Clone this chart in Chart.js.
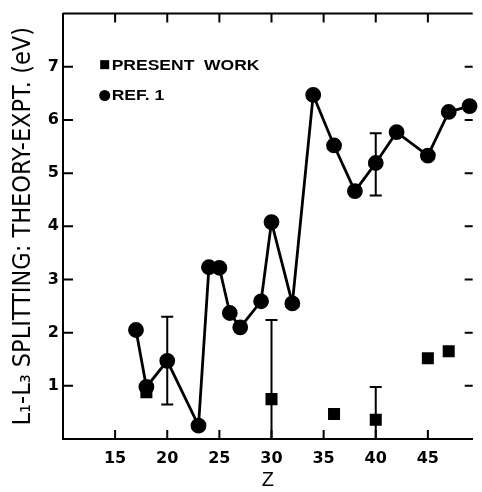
<!DOCTYPE html>
<html>
<head>
<meta charset="utf-8">
<script src="https://cdn.jsdelivr.net/npm/chart.js@4.4.1/dist/chart.umd.min.js"></script>
<style>
html, body { margin: 0; padding: 0; background: #fff; }
#wrap { width: 482px; height: 492px; }
</style>
</head>
<body>
<div id="wrap"><canvas id="splitChart"></canvas></div>
<script>
// values
const refZ = [17, 18, 20, 23, 24, 25, 26, 27, 29, 30, 32, 34, 36, 38, 40, 42, 45, 47, 49];
const refDelta = [2.05, 0.98, 1.47, 0.25, 3.23, 3.22, 2.37, 2.1, 2.59, 4.08, 2.55, 6.47, 5.52, 4.66, 5.19, 5.77, 5.33, 6.15, 6.26];
const presentZ = [18, 30, 36, 40, 45, 47];
const presentDelta = [0.88, 0.75, 0.47, 0.36, 1.52, 1.65];

// error bars
const refErrZ = [20, 40];
const refErrLow = [0.65, 4.58];
const refErrHigh = [2.3, 5.75];
const presentErrZ = [30, 40];
const presentErrLow = [-0.75, -0.26];
const presentErrHigh = [2.24, 0.98];

const xTicks = [15, 20, 25, 30, 35, 40, 45];
const yTicks = [1, 2, 3, 4, 5, 6, 7];

const FONT = 'Liberation Sans';
const TICK_FONT = 'DejaVu Sans';

function toPoints(xs, ys) {
    return xs.map((x, i) => ({ x: x, y: ys[i] }));
}

// inward ticks on all four sides + top frame line
const framePlugin = {
    id: 'frame',
    afterDraw(chart) {
        const ctx = chart.ctx;
        const a = chart.chartArea;
        const xs = chart.scales.x;
        const ys = chart.scales.y;
        ctx.save();
        ctx.strokeStyle = '#000';
        ctx.lineWidth = 2;
        ctx.beginPath();
        ctx.moveTo(a.left, a.top);
        ctx.lineTo(a.right, a.top);
        xTicks.forEach(v => {
            const px = xs.getPixelForValue(v);
            ctx.moveTo(px, a.bottom);
            ctx.lineTo(px, a.bottom - 9);
            ctx.moveTo(px, a.top);
            ctx.lineTo(px, a.top + 9);
        });
        yTicks.forEach(v => {
            const py = ys.getPixelForValue(v);
            ctx.moveTo(a.left, py);
            ctx.lineTo(a.left + 10, py);
            ctx.moveTo(a.right, py);
            ctx.lineTo(a.right - 8, py);
        });
        ctx.stroke();
        ctx.restore();
    }
};

// vertical error bars, clipped at the axis
const errorBarPlugin = {
    id: 'errorBars',
    afterDatasetsDraw(chart) {
        const ctx = chart.ctx;
        const xs = chart.scales.x;
        const ys = chart.scales.y;
        const sets = [
            [refErrZ, refErrLow, refErrHigh],
            [presentErrZ, presentErrLow, presentErrHigh]
        ];
        ctx.save();
        ctx.strokeStyle = '#000';
        ctx.lineWidth = 2;
        sets.forEach(([zs, lo, hi]) => {
            zs.forEach((z, i) => {
                const px = xs.getPixelForValue(z);
                const low = Math.max(lo[i], ys.min);
                const pLow = ys.getPixelForValue(low);
                const pHigh = ys.getPixelForValue(hi[i]);
                ctx.beginPath();
                ctx.moveTo(px, pLow);
                ctx.lineTo(px, pHigh);
                ctx.moveTo(px - 6, pHigh);
                ctx.lineTo(px + 6, pHigh);
                if (lo[i] > ys.min) {
                    ctx.moveTo(px - 6, pLow);
                    ctx.lineTo(px + 6, pLow);
                }
                ctx.stroke();
            });
        });
        ctx.restore();
    }
};

// legend drawn inside the plot, upper left; lettering is wide in the original
const legendPlugin = {
    id: 'innerLegend',
    afterDraw(chart) {
        const ctx = chart.ctx;
        const xs = chart.scales.x;
        const ys = chart.scales.y;
        const x0 = xs.getPixelForValue(14);
        const rows = [
            { label: chart.data.datasets[1].label, style: 'rect', y: ys.getPixelForValue(7.04) },
            { label: chart.data.datasets[0].label, style: 'circle', y: ys.getPixelForValue(6.46) }
        ];
        ctx.save();
        ctx.fillStyle = '#000';
        ctx.font = 'bold 14px ' + FONT;
        ctx.textBaseline = 'middle';
        rows.forEach(r => {
            if (r.style === 'rect') {
                ctx.fillRect(x0 - 4.5, r.y - 4.5, 9, 9);
            } else {
                ctx.beginPath();
                ctx.arc(x0, r.y, 5.5, 0, Math.PI * 2);
                ctx.fill();
            }
            ctx.save();
            ctx.translate(x0 + 7, r.y + 1);
            ctx.scale(1.25, 1);
            ctx.fillText(r.label, 0, 0);
            ctx.restore();
        });
        ctx.restore();
    }
};

new Chart(document.getElementById('splitChart'), {
    type: 'scatter',
    data: {
        datasets: [{
            label: 'REF. 1',
            data: toPoints(refZ, refDelta),
            showLine: true,
            borderColor: '#000',
            borderWidth: 2.8,
            backgroundColor: '#000',
            pointStyle: 'circle',
            pointRadius: 6.5,
            pointHoverRadius: 6.5,
            clip: false
        }, {
            label: 'PRESENT  WORK',
            data: toPoints(presentZ, presentDelta),
            showLine: false,
            borderColor: '#000',
            borderWidth: 0,
            backgroundColor: '#000',
            pointStyle: 'rect',
            pointRadius: 8.5,
            pointHoverRadius: 8.5
        }]
    },
    options: {
        responsive: true,
        maintainAspectRatio: false,
        animation: false,
        layout: { padding: { top: 13, right: 0, left: 0, bottom: 0 } },
        plugins: {
            legend: { display: false },
            tooltip: { enabled: false }
        },
        scales: {
            x: {
                type: 'linear',
                min: 10,
                max: 49.3,
                afterBuildTicks: scale => { scale.ticks = xTicks.map(v => ({ value: v })); },
                afterFit: scale => { scale.height = 53; },
                grid: { display: false, drawTicks: false },
                border: { display: true, color: '#000', width: 2 },
                ticks: {
                    color: '#000',
                    padding: 10,
                    font: { family: TICK_FONT, size: 16, weight: 'bold' }
                },
                title: {
                    display: true,
                    text: 'Z',
                    color: '#000',
                    padding: { top: 7, bottom: 0 },
                    font: { family: FONT, size: 20 }
                }
            },
            y: {
                min: 0,
                max: 8,
                afterBuildTicks: scale => { scale.ticks = yTicks.map(v => ({ value: v })); },
                afterFit: scale => { scale.width = 63; },
                grid: { display: false, drawTicks: false },
                border: { display: true, color: '#000', width: 2 },
                ticks: {
                    color: '#000',
                    padding: 4,
                    font: { family: TICK_FONT, size: 16, weight: 'bold' }
                },
                title: {
                    display: true,
                    text: 'L₁-L₃ SPLITTING: THEORY-EXPT. (eV)',
                    color: '#000',
                    padding: { top: 8, bottom: 0 },
                    font: { family: 'DejaVu Sans Condensed', size: 25 }
                }
            }
        }
    },
    plugins: [framePlugin, errorBarPlugin, legendPlugin]
});
</script>
</body>
</html>
